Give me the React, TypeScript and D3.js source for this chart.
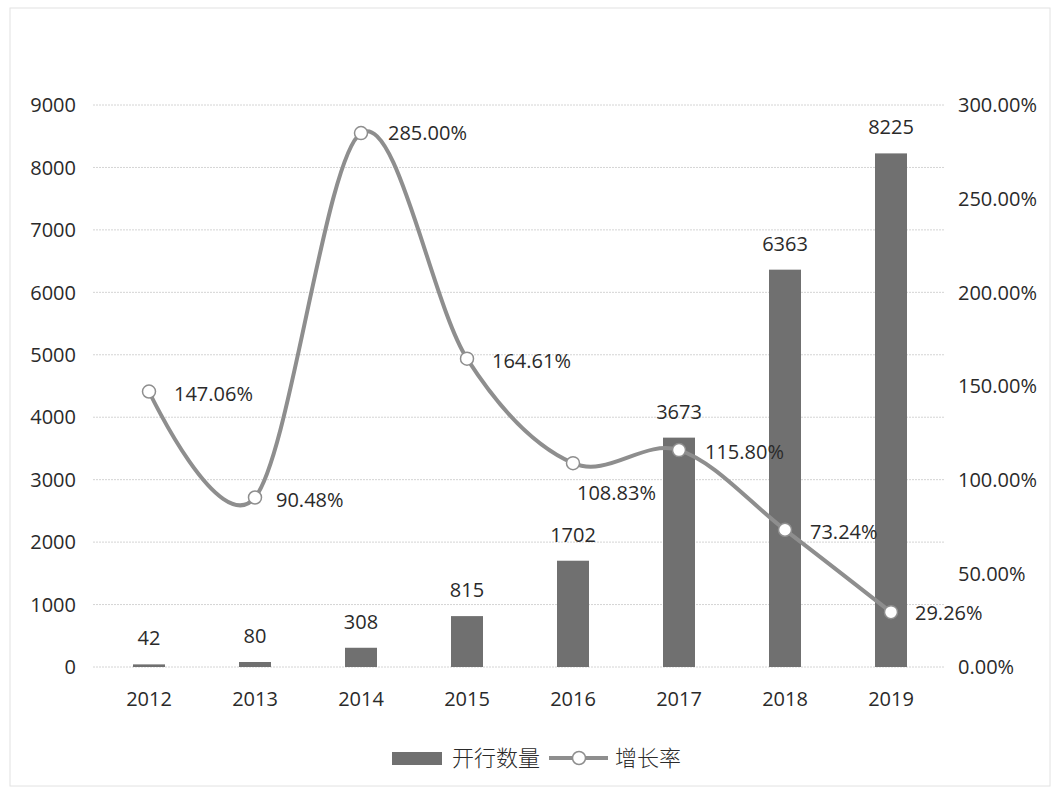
import React from "react";
import * as d3 from "d3";

const years = ["2012", "2013", "2014", "2015", "2016", "2017", "2018", "2019"];
const counts = [42, 80, 308, 815, 1702, 3673, 6363, 8225];
const growth = [147.06, 90.48, 285.0, 164.61, 108.83, 115.8, 73.24, 29.26];
const growthLabels = ["147.06%", "90.48%", "285.00%", "164.61%", "108.83%", "115.80%", "73.24%", "29.26%"];
const leftTicks = [0, 1000, 2000, 3000, 4000, 5000, 6000, 7000, 8000, 9000];
const rightTicks = [0, 50, 100, 150, 200, 250, 300];
const legendNames = ["开行数量", "增长率"];

const W = 1054;
const H = 790;
const plotLeft = 96;
const plotRight = 944;
const plotTop = 105;
const plotBottom = 667;

export default function App() {
  const x = d3.scaleBand<string>().domain(years).range([plotLeft, plotRight]).paddingInner(0.7).paddingOuter(0.35);
  const xc = (y: string) => (x(y) as number) + x.bandwidth() / 2;
  const yL = d3.scaleLinear().domain([0, 9000]).range([plotBottom, plotTop]);
  const yR = d3.scaleLinear().domain([0, 300]).range([plotBottom, plotTop]);
  const barW = 32;
  const line = d3
    .line<number>()
    .x((_, i) => xc(years[i]))
    .y((d) => yR(d))
    .curve(d3.curveCardinal.tension(0));
  const font = "'Open Sans', 'DejaVu Sans', sans-serif";
  const fs = 20;
  const txt = "#2a2a2a";
  const barColor = "#707070";
  const lineColor = "#8e8e8e";

  // label offsets per point: [dx, dy, anchor]
  const lblPos: [number, number, string][] = [
    [25, 9, "start"],
    [21, 9, "start"],
    [27, 7, "start"],
    [25, 9, "start"],
    [4, 37, "start"],
    [26, 9, "start"],
    [25, 9, "start"],
    [24, 8, "start"],
  ];

  return (
    <svg width={W} height={H} style={{ position: "absolute", left: 0, top: 0, background: "#fff" }}>
      <rect x={10} y={8} width={1040} height={778} fill="none" stroke="#e2e2e2" strokeWidth={1} />
      {leftTicks.map((t) => (
        <line key={"g" + t} x1={plotLeft - 3} x2={plotRight} y1={yL(t)} y2={yL(t)} stroke="#d4d4d4" strokeWidth={1} strokeDasharray="2 1" />
      ))}
      {leftTicks.map((t) => (
        <text key={"l" + t} x={76} y={yL(t)} dy="0.36em" textAnchor="end" fontFamily={font} fontSize={fs} fill={txt}>
          {t}
        </text>
      ))}
      {rightTicks.map((t) => (
        <text key={"r" + t} x={958} y={yR(t)} dy="0.36em" textAnchor="start" fontFamily={font} fontSize={fs} fill={txt}>
          {t.toFixed(2) + "%"}
        </text>
      ))}
      {years.map((y) => (
        <text key={"x" + y} x={xc(y)} y={706} textAnchor="middle" fontFamily={font} fontSize={fs} fill={txt}>
          {y}
        </text>
      ))}
      {counts.map((c, i) => (
        <rect key={"b" + i} x={xc(years[i]) - barW / 2} y={yL(c)} width={barW} height={plotBottom - yL(c)} fill={barColor} />
      ))}
      {counts.map((c, i) => (
        <text key={"bl" + i} x={xc(years[i])} y={yL(c) - 19} textAnchor="middle" fontFamily={font} fontSize={fs} fill={txt}>
          {c}
        </text>
      ))}
      <path d={line(growth) || ""} fill="none" stroke={lineColor} strokeWidth={4} />
      {growth.map((g, i) => (
        <circle key={"m" + i} cx={xc(years[i])} cy={yR(g)} r={6.5} fill="#fff" stroke={lineColor} strokeWidth={1.5} />
      ))}
      {growth.map((g, i) => (
        <text key={"gl" + i} x={xc(years[i]) + lblPos[i][0]} y={yR(g) + lblPos[i][1]} textAnchor={lblPos[i][2]} fontFamily={font} fontSize={fs} fill={txt}>
          {growthLabels[i]}
        </text>
      ))}
      <rect x={392} y={752} width={50} height={13} fill={barColor} />
      <text x={452} y={766} fontFamily="'Noto Sans CJK SC', sans-serif" fontSize={22} fontWeight={300} fill={txt}>
        {legendNames[0]}
      </text>
      <line x1={549} x2={608} y1={758} y2={758} stroke={lineColor} strokeWidth={4} />
      <circle cx={579} cy={758} r={6.5} fill="#fff" stroke={lineColor} strokeWidth={1.5} />
      <text x={615} y={766} fontFamily="'Noto Sans CJK SC', sans-serif" fontSize={22} fontWeight={300} fill={txt}>
        {legendNames[1]}
      </text>
    </svg>
  );
}
